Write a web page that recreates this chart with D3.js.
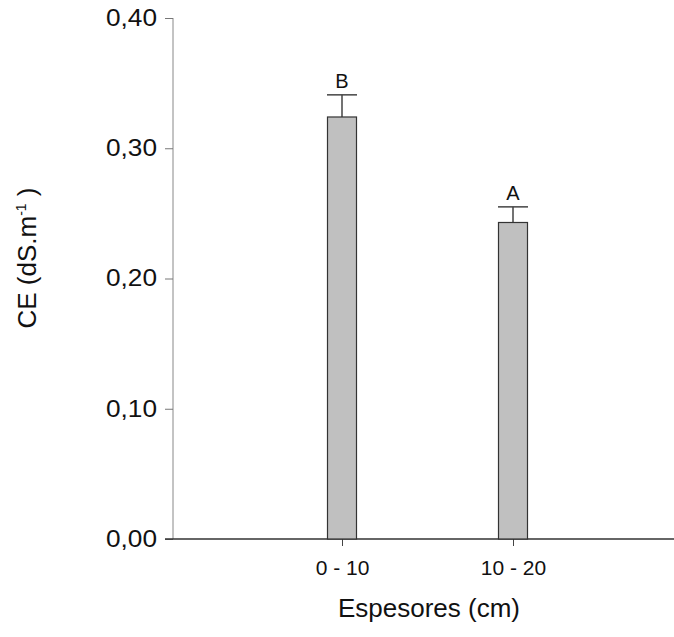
<!DOCTYPE html>
<html><head><meta charset="utf-8">
<script src="https://cdn.jsdelivr.net/npm/d3@7"></script>
<style>body{margin:0;background:#fff}svg{display:block;font-family:"Liberation Sans",Arial,sans-serif}</style>
</head><body><svg id="c" width="674" height="637"></svg>
<script>
const categories = ["0 - 10", "10 - 20"];
const values = [0.324, 0.243];
const errors = [0.017, 0.012];
const letters = ["B", "A"];
const yTicks = [0, 0.1, 0.2, 0.3, 0.4];

const svg = d3.select("#c");
const x0 = 173, x1 = 674, yTop = 18, yBot = 539;
const xs = d3.scalePoint().domain(categories).range([342, 513]);
const y = d3.scaleLinear().domain([0, 0.4]).range([yBot, yTop]);
const fmt = d => d3.format(".2f")(d).replace(".", ",");
const FF = "Liberation Sans, Arial, sans-serif";

// y axis
const ya = svg.append("g").attr("transform", `translate(${x0},0)`)
  .call(d3.axisLeft(y).tickValues(yTicks).tickFormat(fmt).tickSize(8).tickPadding(8));
ya.select(".domain").attr("stroke", "#888").attr("d", `M0,${yTop}V${yBot}`);
ya.selectAll(".tick line").attr("stroke", "#777");
ya.selectAll(".tick text").attr("font-size", 23).attr("fill", "#111").attr("font-family", FF)
  .attr("textLength", 51).attr("lengthAdjust", "spacingAndGlyphs");

// x axis
const xa = svg.append("g").attr("transform", `translate(0,${yBot})`)
  .call(d3.axisBottom(xs).tickSize(7).tickPadding(14));
xa.select(".domain").remove();
xa.selectAll(".tick line").attr("stroke", "#444");
xa.selectAll(".tick text").attr("font-size", 21).attr("fill", "#111").attr("font-family", FF);
svg.append("line").attr("x1", 165).attr("x2", x1).attr("y1", yBot).attr("y2", yBot)
  .attr("stroke", "#333").attr("stroke-width", 1.5);

const bw = 29;
const g = svg.append("g");
values.forEach((v, i) => {
  const cx = xs(categories[i]);
  g.append("line").attr("x1", cx).attr("x2", cx).attr("y1", y(v)).attr("y2", y(v + errors[i]))
    .attr("stroke", "#444").attr("stroke-width", 1.5);
  g.append("line").attr("x1", cx - 15).attr("x2", cx + 15).attr("y1", y(v + errors[i])).attr("y2", y(v + errors[i]))
    .attr("stroke", "#444").attr("stroke-width", 1.5);
  g.append("rect").attr("x", cx - bw / 2).attr("y", y(v)).attr("width", bw).attr("height", y(0) - y(v))
    .attr("fill", "#c0c0c0").attr("stroke", "#333").attr("stroke-width", 1.2);
  g.append("text").attr("x", cx).attr("y", y(v + errors[i]) - 7).attr("text-anchor", "middle")
    .attr("font-size", 20).attr("fill", "#111").text(letters[i]);
});

svg.append("text").attr("x", 429).attr("y", 617).attr("text-anchor", "middle")
  .attr("font-size", 26).attr("fill", "#111").text("Espesores (cm)");
const yt = svg.append("text").attr("transform", "translate(36,258) rotate(-90)")
  .attr("text-anchor", "middle").attr("font-size", 26).attr("fill", "#111");
yt.append("tspan").text("CE (dS.m");
yt.append("tspan").attr("font-size", 14).attr("dy", -10).text("-1");
yt.append("tspan").attr("dy", 10).text(" )");
</script></body></html>
